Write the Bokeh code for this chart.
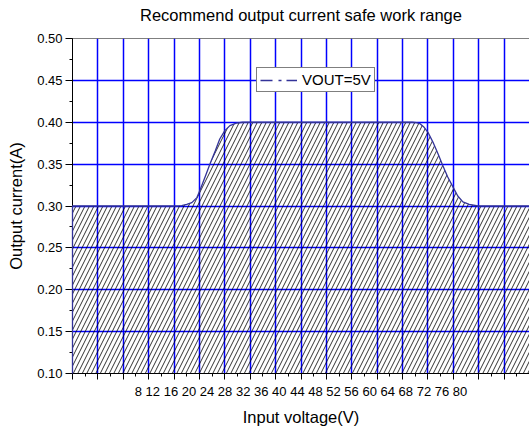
from bokeh.plotting import figure
from bokeh.models import (Range1d, LinearAxis, SingleIntervalTicker, CustomJSTickFormatter,
                          PrintfTickFormatter, Legend, LegendItem, Span, Grid)
from bokeh.embed import file_html
from bokeh.resources import INLINE

# ---------------- data ----------------
title_text = "Recommend output current safe work range"
x_label = "Input voltage(V)"
y_label = "Output current(A)"
series_name = "VOUT=5V"

x_tick_labels = [8, 12, 16, 20, 24, 28, 32, 36, 40, 44, 48, 52, 56, 60, 64, 68, 72, 76, 80]
y_tick_values = [0.10, 0.15, 0.20, 0.25, 0.30, 0.35, 0.40, 0.45, 0.50]

voltage = [8, 24, 25.2, 26.0, 26.8, 27.6, 28.1, 28.9, 29.7, 30.5, 31.2, 32.0, 32.8, 33.8, 34.8,
           61.5, 62.2, 62.8, 63.4, 64.0, 64.8, 65.6, 66.3, 67.1, 68.0, 68.7, 69.5, 70.5, 71.9, 80]
current = [0.300, 0.300, 0.3005, 0.302, 0.304, 0.310, 0.319, 0.335, 0.351, 0.366, 0.380, 0.390,
           0.396, 0.399, 0.400, 0.400, 0.3995, 0.398, 0.394, 0.388, 0.376, 0.362, 0.349, 0.335,
           0.322, 0.312, 0.305, 0.302, 0.300, 0.300]

X_START, X_END = x_tick_labels[0], x_tick_labels[-1]
Y_START, Y_END = y_tick_values[0], y_tick_values[-1]

FONT = "Liberation Sans"
NAVY = "#333399"
BLUE = "#0000ff"

p = figure(frame_width=457, frame_height=335,
           x_range=Range1d(X_START, X_END), y_range=Range1d(Y_START, Y_END),
           x_axis_type=None, y_axis_type=None,
           output_backend="svg", toolbar_location=None,
           min_border_left=72, min_border_right=0, min_border_top=38, min_border_bottom=0,
           background_fill_color="white", border_fill_color="white",
           outline_line_color=None)

xticker = SingleIntervalTicker(interval=x_tick_labels[1] - x_tick_labels[0], num_minor_ticks=2)
yticker = SingleIntervalTicker(interval=0.05, num_minor_ticks=2)

p.add_layout(Grid(dimension=0, ticker=xticker, grid_line_color=BLUE, grid_line_width=1.5))
p.add_layout(Grid(dimension=1, ticker=yticker, grid_line_color=BLUE, grid_line_width=1.5))

empty = CustomJSTickFormatter(code="return ''")

# chart title, carried by a line-less axis above the frame
title_axis = LinearAxis(ticker=xticker, formatter=empty, axis_label=title_text,
                        axis_label_text_font=FONT, axis_label_text_font_size="16.5px",
                        axis_label_text_font_style="normal", axis_label_text_color="black",
                        axis_label_standoff=15,
                        major_label_text_font_size="1px", major_label_standoff=0,
                        axis_line_color=None, major_tick_line_color=None,
                        minor_tick_line_color=None,
                        major_tick_in=0, major_tick_out=0, minor_tick_in=0, minor_tick_out=0)
p.add_layout(title_axis, "above")

xaxis = LinearAxis(ticker=xticker, formatter=empty,
                   axis_label=" ".join(str(v) for v in x_tick_labels),
                   axis_label_text_font=FONT, axis_label_text_font_size="13px",
                   axis_label_text_font_style="normal", axis_label_text_color="black",
                   axis_label_standoff=4,
                   major_label_text_font_size="1px", major_label_standoff=0,
                   axis_line_color="black", axis_line_width=1,
                   major_tick_in=0, major_tick_out=6, minor_tick_in=0, minor_tick_out=3,
                   major_tick_line_color="black", minor_tick_line_color="black")
p.add_layout(xaxis, "below")

xaxis2 = LinearAxis(ticker=xticker, formatter=empty, axis_label=x_label,
                    axis_label_text_font=FONT, axis_label_text_font_size="16.5px",
                    axis_label_text_font_style="normal", axis_label_text_color="black",
                    axis_label_standoff=6,
                    major_label_text_font_size="1px", major_label_standoff=0,
                    axis_line_color=None, major_tick_line_color=None, minor_tick_line_color=None,
                    major_tick_in=0, major_tick_out=0, minor_tick_in=0, minor_tick_out=0)
p.add_layout(xaxis2, "below")

yaxis = LinearAxis(ticker=yticker, formatter=PrintfTickFormatter(format="%.2f"),
                   axis_label=y_label, axis_label_text_font=FONT,
                   axis_label_text_font_size="16.5px", axis_label_text_font_style="normal",
                   axis_label_text_color="black", axis_label_standoff=9,
                   major_label_text_font=FONT, major_label_text_font_size="13px",
                   major_label_text_color="black", major_label_standoff=3,
                   axis_line_color="black", axis_line_width=1,
                   major_tick_in=0, major_tick_out=7, minor_tick_in=0, minor_tick_out=3,
                   major_tick_line_color="black", minor_tick_line_color="black")
p.add_layout(yaxis, "left")

# top border line
p.add_layout(Span(location=Y_END, dimension="width", line_color="black", line_width=1))

# hatched safe area
p.varea(x=voltage, y1=Y_START, y2=current, fill_color=None, fill_alpha=0,
        hatch_pattern="/", hatch_color="black", hatch_alpha=0.8, hatch_scale=9, hatch_weight=1)

# curve outline (with left edge down to the axis)
p.line(x=[voltage[0]] + voltage, y=[Y_START] + current, line_color=NAVY, line_width=1.3,
       level="overlay")

# legend sample (dash-dot); renderer hidden, only its legend glyph is shown
dummy = p.line(x=voltage, y=current, line_color=NAVY, line_width=1.5, line_dash="12 6 3 5",
               visible=False)
legend = Legend(items=[LegendItem(label=series_name, renderers=[dummy])],
                location=(184, 281), orientation="vertical", click_policy="none",
                label_text_font=FONT, label_text_font_size="15px", label_text_color="black",
                label_standoff=5, glyph_width=37, glyph_height=16, label_height=16,
                padding=3, spacing=0, margin=0,
                border_line_color="black", border_line_width=1,
                background_fill_color="white", background_fill_alpha=1)
p.add_layout(legend)

open("out.html", "w").write(file_html(p, INLINE))
